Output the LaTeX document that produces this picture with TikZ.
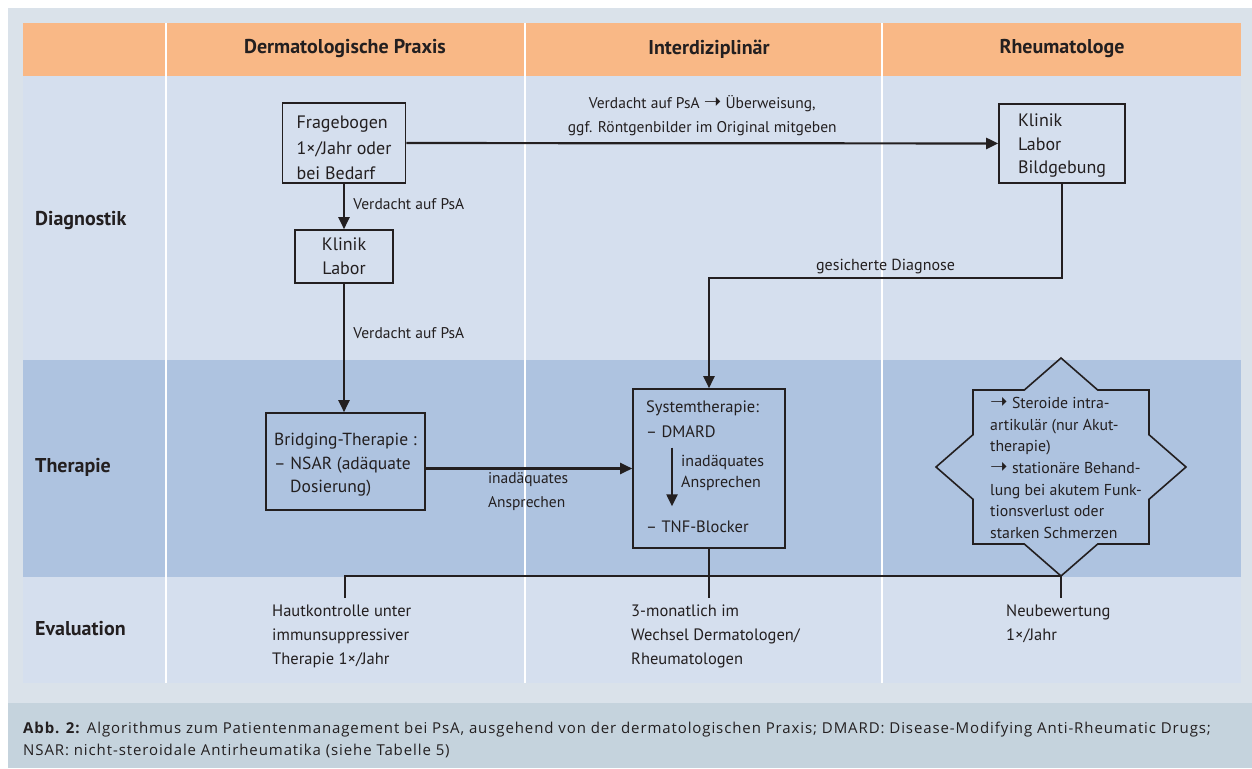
\documentclass[tikz,border=0pt]{standalone}
\usepackage{fontspec}
\setmainfont{PT Sans}
\newfontfamily\capfont[LetterSpace=6.0]{Open Sans}
\newfontfamily\arrowfont{DejaVu Sans}
\usepackage{xcolor}
\usepackage{tikz}
\usetikzlibrary{arrows.meta}

\definecolor{outergray}{HTML}{DAE2EA}
\definecolor{headorange}{HTML}{F9B886}
\definecolor{lightrow}{HTML}{D5DFEE}
\definecolor{therrow}{HTML}{AEC3E0}
\definecolor{capband}{HTML}{C5D3DD}
\definecolor{ink}{HTML}{231F20}

\newcommand{\ra}{{\arrowfont\fontsize{21}{21}\selectfont ➝}}

\tikzset{
  box/.style={draw=ink, line width=1.6pt, inner sep=0pt, text=ink},
  flow/.style={draw=ink, line width=2.2pt, -{Triangle[length=12pt,width=11pt]}},
  evline/.style={draw=ink, line width=1.6pt},
  txt/.style={text=ink, font=\fontsize{15.5}{24}\selectfont},
  boxtxt/.style={text=ink, font=\fontsize{18}{24}\selectfont},
  systxt/.style={text=ink, inner sep=0pt, anchor=west, font=\fontsize{16.5}{21}\selectfont},
  evtxt/.style={text=ink, inner sep=0pt, anchor=west, align=left, font=\fontsize{16.5}{24}\selectfont},
  hdr/.style={text=ink, font=\bfseries\fontsize{20}{24}\selectfont},
}

\begin{document}
\begin{tikzpicture}[x=1pt,y=-1pt]
\useasboundingbox (0,0) rectangle (1252,768);
% background and table
\fill[white] (0,0) rectangle (1252,768);
\fill[outergray] (8,8) rectangle (1252,703);
\fill[capband] (8,703) rectangle (1252,768);
\fill[headorange] (23,23) rectangle (1241,76);
\fill[lightrow] (23,76) rectangle (1241,360);
\fill[therrow] (23,360) rectangle (1241,577);
\fill[lightrow] (23,577) rectangle (1241,683);
\foreach \x in {166,525,882}
  \draw[white, line width=2.5pt] (\x,23) -- (\x,683);

% headers
\node[hdr] (hderm) at (345,49) {Dermatologische Praxis};
\node[hdr] (hinter) at (709,49) {Interdiziplinär};
\node[hdr] (hrheu) at (1062,49) {Rheumatologe};
\node[hdr, anchor=west, inner sep=0pt] (ldiag) at (35,221) {Diagnostik};
\node[hdr, anchor=west, inner sep=0pt] (lther) at (35,467) {Therapie};
\node[hdr, anchor=west, inner sep=0pt] (leval) at (35,629) {Evaluation};

% boxes
\node[box, boxtxt, align=left, font=\fontsize{18}{25.5}\selectfont, minimum width=123pt, minimum height=80pt] (frage) at (344,143) {\rule{0pt}{22.5pt}Fragebogen\\1×/Jahr oder\\bei Bedarf};
\node[box, boxtxt, align=center, minimum width=98pt, minimum height=53pt] (klinL) at (344,256.5) {Klinik\\Labor};
\node[box, boxtxt, align=left, font=\fontsize{17.5}{23.5}\selectfont, minimum width=159pt, minimum height=97pt] (bridge) at (345.5,461.5) {\rule{0pt}{19pt}Bridging-Therapie :\\– NSAR (adäquate\\\hspace*{16pt}Dosierung)};
\node[box, boxtxt, align=left, font=\fontsize{18}{23.5}\selectfont, minimum width=126pt, minimum height=79pt] (klinR) at (1062,143.5) {\rule{0pt}{17pt}Klinik\\Labor\\Bildgebung};
\node[box, minimum width=152pt, minimum height=159pt] (sys) at (709,468.5) {};
\node[systxt] (systitle) at (646,408) {Systemtherapie:};
\node[systxt] (dmard) at (646,432) {– DMARD};
\node[systxt] (tnf) at (646,527) {– TNF-Blocker};
\node[systxt, align=left, font=\fontsize{16}{21}\selectfont] (inadsys) at (681,472.5) {inadäquates\\Ansprechen};

% star
\begin{scope}[shift={(1061,467)}]
\draw[box] (0,-109) -- (36.7,-77) -- (88,-77) -- (88,-32.3) -- (125,0) -- (88,32.3) -- (88,77) -- (36.7,77) -- (0,109) -- (-36.7,77) -- (-88,77) -- (-88,32.3) -- (-125,0) -- (-88,-32.3) -- (-88,-77) -- (-36.7,-77) -- cycle;
\coordinate (startip) at (0,109);
\end{scope}
\node[txt, anchor=west, align=left, inner sep=0pt, font=\fontsize{15.8}{21.6}\selectfont] (akut) at (990,468) {\ra\ Steroide intra-\\artikulär (nur Akut-\\therapie)\\\ra\ stationäre Behand-\\lung bei akutem Funk-\\tionsverlust oder\\starken Schmerzen};

% connectors
\draw[flow] (frage) -- (klinL) node[txt, pos=.45, right, xshift=5pt] {Verdacht auf PsA};
\draw[flow] (klinL.south) -- (klinL.south |- bridge.north) node[txt, pos=.38, right, xshift=5pt] {Verdacht auf PsA};
\draw[flow] (bridge.east |- sys.west) -- (sys.west) node[txt, pos=.28, anchor=north west, align=left] {inadäquates\\Ansprechen};
\draw[flow] (frage) -- (klinR) node[txt, midway, above, align=center, yshift=3pt] {Verdacht auf PsA \ra\ Überweisung,\\ggf. Röntgenbilder im Original mitgeben};
\coordinate (diagbend) at (709,278);
\draw[flow] (klinR.south) |- (diagbend) node[txt, font=\fontsize{16}{24}\selectfont, pos=.75, above] {gesicherte Diagnose} -- (sys.north);
\draw[flow] ([xshift=26pt,yshift=-9.5pt]dmard.south west) -- ([xshift=26pt,yshift=14.5pt]tnf.north west);

% evaluation
\coordinate (evL) at (345,598);
\coordinate (evM) at (709,598);
\coordinate (evR) at (1061,598);
\draw[evline] (evL) |- (startip);
\draw[evline] (sys.south) -- (evM);
\draw[evline] (startip) -- (evR);
\node[evtxt] (evderm) at (272,636) {Hautkontrolle unter\\immunsuppressiver\\Therapie 1×/Jahr};
\node[evtxt] (evinter) at (631,636) {3-monatlich im\\Wechsel Dermatologen/\\Rheumatologen};
\node[evtxt] (evrheu) at (1006,624) {Neubewertung\\1×/Jahr};

% caption
\node[anchor=west, align=left, inner sep=0pt, text=ink, font=\capfont\fontsize{15}{22}\selectfont] (caption) at (23,740) {\textbf{Abb. 2:} Algorithmus zum Patientenmanagement bei PsA, ausgehend von der dermatologischen Praxis; DMARD: Disease-Modifying Anti-Rheumatic Drugs;\\NSAR: nicht-steroidale Antirheumatika (siehe Tabelle 5)};
\end{tikzpicture}
\end{document}
